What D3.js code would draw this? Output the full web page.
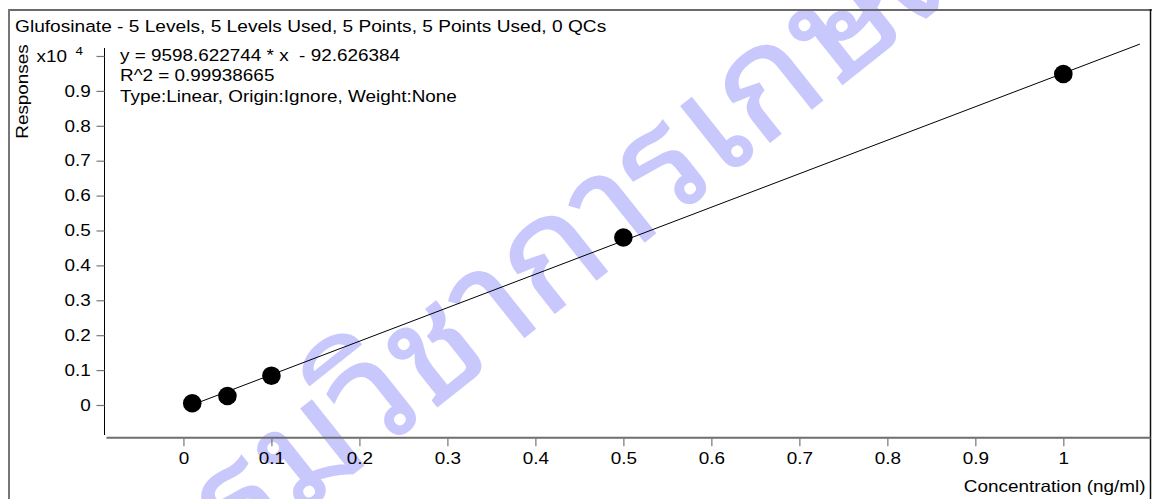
<!DOCTYPE html>
<html>
<head>
<meta charset="utf-8">
<script src="https://cdn.jsdelivr.net/npm/d3@7/dist/d3.min.js"></script>
<style>
  html, body { margin: 0; padding: 0; background: #fff; }
  svg { display: block; }
  text { font-family: "Liberation Sans", Arial, Helvetica, sans-serif; fill: #000; white-space: pre; }
</style>
</head>
<body>
<svg id="chart" width="1152" height="499"></svg>
<script>
// Calibration data for Glufosinate
const compound = "Glufosinate";
const levels = 5, levelsUsed = 5, qcCount = 0;
const concentrations = [0.01, 0.05, 0.1, 0.5, 1.0];      // ng/ml
const responses = [49, 258, 840, 4800, 9484];            // peak responses

// Linear fit reported by the quantitation software
const slope = 9598.622744;
const intercept = -92.626384;
const rSquared = "0.99938665";
const fitType = "Linear", fitOrigin = "Ignore", fitWeight = "None";
const fitRange = [0.01, 1.087];

// Axis ticks
const xTickValues = [0, 0.1, 0.2, 0.3, 0.4, 0.5, 0.6, 0.7, 0.8, 0.9, 1];
const xTickLabels = ["0", "0.1", "0.2", "0.3", "0.4", "0.5", "0.6", "0.7", "0.8", "0.9", "1"];
const yTickValues = [0, 1000, 2000, 3000, 4000, 5000, 6000, 7000, 8000, 9000, 10000];
const yTickLabels = ["0", "0.1", "0.2", "0.3", "0.4", "0.5", "0.6", "0.7", "0.8", "0.9", ""];
const yExponent = "4";
const xTitle = "Concentration (ng/ml)";
const yTitle = "Responses";
const watermark = "กรมวิชาการเกษตร";

// Text is drawn slightly wide, like the instrument software's font
const FS = 16.3, SX = 1.16;

const svg = d3.select("#chart");
const W = 1152, H = 499;

const x = d3.scaleLinear().domain([-0.088, 1.0985]).range([106, 1150]);
const y = d3.scaleLinear().domain([-917, 10229]).range([437, 48]);

// Watermark underneath the chart
svg.append("text")
  .attr("transform", "translate(582,240) rotate(-38.5)")
  .attr("text-anchor", "middle")
  .attr("dominant-baseline", "middle")
  .style("font-family", "'Noto Sans Thai Looped', 'Loma', 'Garuda', 'Norasi', 'Waree', 'Noto Sans Thai', 'Noto Sans', sans-serif")
  .style("font-size", "150px")
  .style("font-weight", "normal")
  .style("fill", "#c8c8fd")
  .style("stroke", "#c8c8fd")
  .style("stroke-width", 1.5)
  .text(watermark);

function label(parent, px, py, str, anchor, size, rot) {
  return parent.append("text")
    .attr("transform", `translate(${px},${py})${rot ? ` rotate(${rot})` : ""} scale(${SX},1)`)
    .attr("text-anchor", anchor || "start")
    .style("font-size", (size || FS) + "px")
    .text(str);
}

// Frame
svg.append("line").attr("x1", 8).attr("x2", W).attr("y1", 10).attr("y2", 10)
  .attr("stroke", "#6a6a6a").attr("stroke-width", 2);
svg.append("line").attr("x1", 9).attr("x2", 9).attr("y1", 9).attr("y2", H)
  .attr("stroke", "#777").attr("stroke-width", 2);
svg.append("line").attr("x1", 1150.5).attr("x2", 1150.5).attr("y1", 9).attr("y2", H)
  .attr("stroke", "#111").attr("stroke-width", 1.5);

// Title line
const title = `${compound} - ${levels} Levels, ${levelsUsed} Levels Used, ${concentrations.length} Points, ${responses.length} Points Used, ${qcCount} QCs`;
label(svg, 15, 31.7, title, "start", 16.5);

// Y axis
const yAxis = d3.axisLeft(y)
  .tickValues(yTickValues)
  .tickSize(8)
  .tickPadding(3.9)
  .tickSizeOuter(0)
  .tickFormat((d, i) => yTickLabels[i]);
const gy = svg.append("g").attr("transform", "translate(104.5,0)").call(yAxis);
gy.select(".domain").attr("stroke", "#000").attr("stroke-width", 1)
  .attr("d", `M0,${y.range()[1]}V${y.range()[0] - 2}`);
gy.selectAll(".tick line").attr("stroke", "#777").attr("stroke-width", 1.2);
gy.selectAll(".tick text")
  .attr("transform", `scale(${SX},1)`)
  .style("font-size", FS + "px")
  .style("font-family", null)
  .attr("fill", "#000");

// Exponent label at the top tick
label(svg, 67, 62, "x10", "end");
label(svg, 75.5, 55, yExponent, "start", 11.5);

// X axis
const xAxis = d3.axisBottom(x)
  .tickValues(xTickValues)
  .tickSize(9)
  .tickPadding(6.4)
  .tickSizeOuter(0)
  .tickFormat((d, i) => xTickLabels[i]);
const gx = svg.append("g").attr("transform", "translate(0,437.3)").call(xAxis);
gx.select(".domain").attr("stroke", "#6e6e6e").attr("stroke-width", 2);
gx.selectAll(".tick line").attr("stroke", "#777").attr("stroke-width", 1.2);
gx.selectAll(".tick text")
  .attr("transform", `scale(${SX},1)`)
  .style("font-size", FS + "px")
  .style("font-family", null)
  .attr("fill", "#000");

// Axis titles
label(svg, 1145.5, 491.7, xTitle, "end");
label(svg, 28.4, 91.5, yTitle, "middle", FS, -90);

// Fit annotation
const eq = `y = ${slope} * x  - ${Math.abs(intercept)}`;
label(svg, 120, 61, eq);
label(svg, 120, 81, `R^2 = ${rSquared}`);
label(svg, 120, 101.7, `Type:${fitType}, Origin:${fitOrigin}, Weight:${fitWeight}`);

// Regression line
const fitLine = d3.line().x(d => x(d)).y(d => y(slope * d + intercept));
svg.append("path")
  .attr("d", fitLine(fitRange))
  .attr("fill", "none")
  .attr("stroke", "#000")
  .attr("stroke-width", 1);

// Calibration points
svg.append("g").selectAll("circle")
  .data(concentrations.map((c, i) => ({ c, r: responses[i] })))
  .join("circle")
  .attr("cx", d => x(d.c))
  .attr("cy", d => y(d.r))
  .attr("r", 9.3)
  .attr("fill", "#000");
</script>
</body>
</html>
